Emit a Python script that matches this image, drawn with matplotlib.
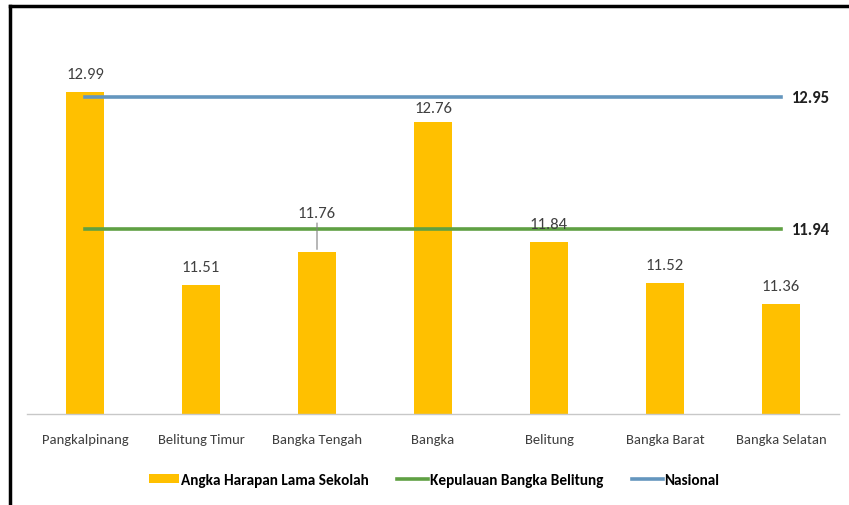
import matplotlib
matplotlib.use("Agg")
import matplotlib.pyplot as plt
from matplotlib.lines import Line2D
from matplotlib import font_manager

names = {f.name for f in font_manager.fontManager.ttflist}
fam = "DejaVu Sans"
for cand in ["Carlito", "Liberation Sans Narrow", "Roboto Condensed", "Open Sans Condensed", "Lato"]:
    if cand in names:
        fam = cand
        break
plt.rcParams['font.family'] = [fam, 'DejaVu Sans']

categories = ["Pangkalpinang", "Belitung Timur", "Bangka Tengah", "Bangka",
              "Belitung", "Bangka Barat", "Bangka Selatan"]
ahls = [12.99, 11.51, 11.76, 12.76, 11.84, 11.52, 11.36]
provinsi = [11.94] * 7
nasional = [12.95] * 7

W, H = 849, 506
fig = plt.figure(figsize=(W / 100, H / 100), dpi=100)
ax = fig.add_axes([27 / W, (H - 415) / H, (839 - 27) / W, (415 - 60) / H])

x = list(range(len(categories)))
bars = ax.bar(x, ahls, width=0.32, color="#FFC000", zorder=2,
              label="Angka Harapan Lama Sekolah")
l1, = ax.plot(x, provinsi, color="#5FA043", lw=2.6, zorder=3,
              label="Kepulauan Bangka Belitung")
l2, = ax.plot(x, nasional, color="#6496BE", lw=2.6, zorder=3,
              label="Nasional")

ax.set_xlim(-0.5, len(categories) - 0.5)
ax.set_ylim(10.52, 13.24)

offsets = [8, 8, 23, 5, 8, 8, 8]
for i, v in enumerate(ahls):
    kw = dict(xy=(i, v), xytext=(0, offsets[i]), textcoords="offset points",
              ha="center", va="bottom", fontsize=12, color="#404040")
    if categories[i] == "Bangka Tengah":
        kw["arrowprops"] = dict(arrowstyle="-", color="#808080", lw=0.8,
                                shrinkA=0, shrinkB=2)
    ax.annotate(f"{v:.2f}", **kw)

for val in (nasional[-1], provinsi[-1]):
    ax.annotate(f"{val:.2f}", xy=(x[-1], val), xytext=(8, 0),
                textcoords="offset points", ha="left", va="center", fontsize=12,
                fontweight="bold", color="#202020")

ax.set_xticks(x)
ax.set_xticklabels(categories, fontsize=10.5, color="#404040")
ax.tick_params(axis="x", length=0, pad=14)
ax.set_yticks([])
for s in ["top", "right", "left"]:
    ax.spines[s].set_visible(False)
ax.spines["bottom"].set_color("#C8C8C8")
ax.spines["bottom"].set_linewidth(1)

fig.legend(handles=[bars, l1, l2], loc="center", bbox_to_anchor=(0.511, (H - 481) / H),
           ncol=3, frameon=False, handlelength=2.0, handleheight=0.55,
           columnspacing=1.9, handletextpad=0.1,
           prop={"family": [fam, 'DejaVu Sans'], "weight": "bold", "size": 11})

# outer frame (top and left edges)
fig.add_artist(Line2D([10 / W, 10 / W], [0, 1 - 7 / H], color="black", lw=2.5,
                      transform=fig.transFigure))
fig.add_artist(Line2D([10 / W, 1], [1 - 7 / H, 1 - 7 / H], color="black", lw=2.5,
                      transform=fig.transFigure))

fig.savefig("out.png", dpi=100)
